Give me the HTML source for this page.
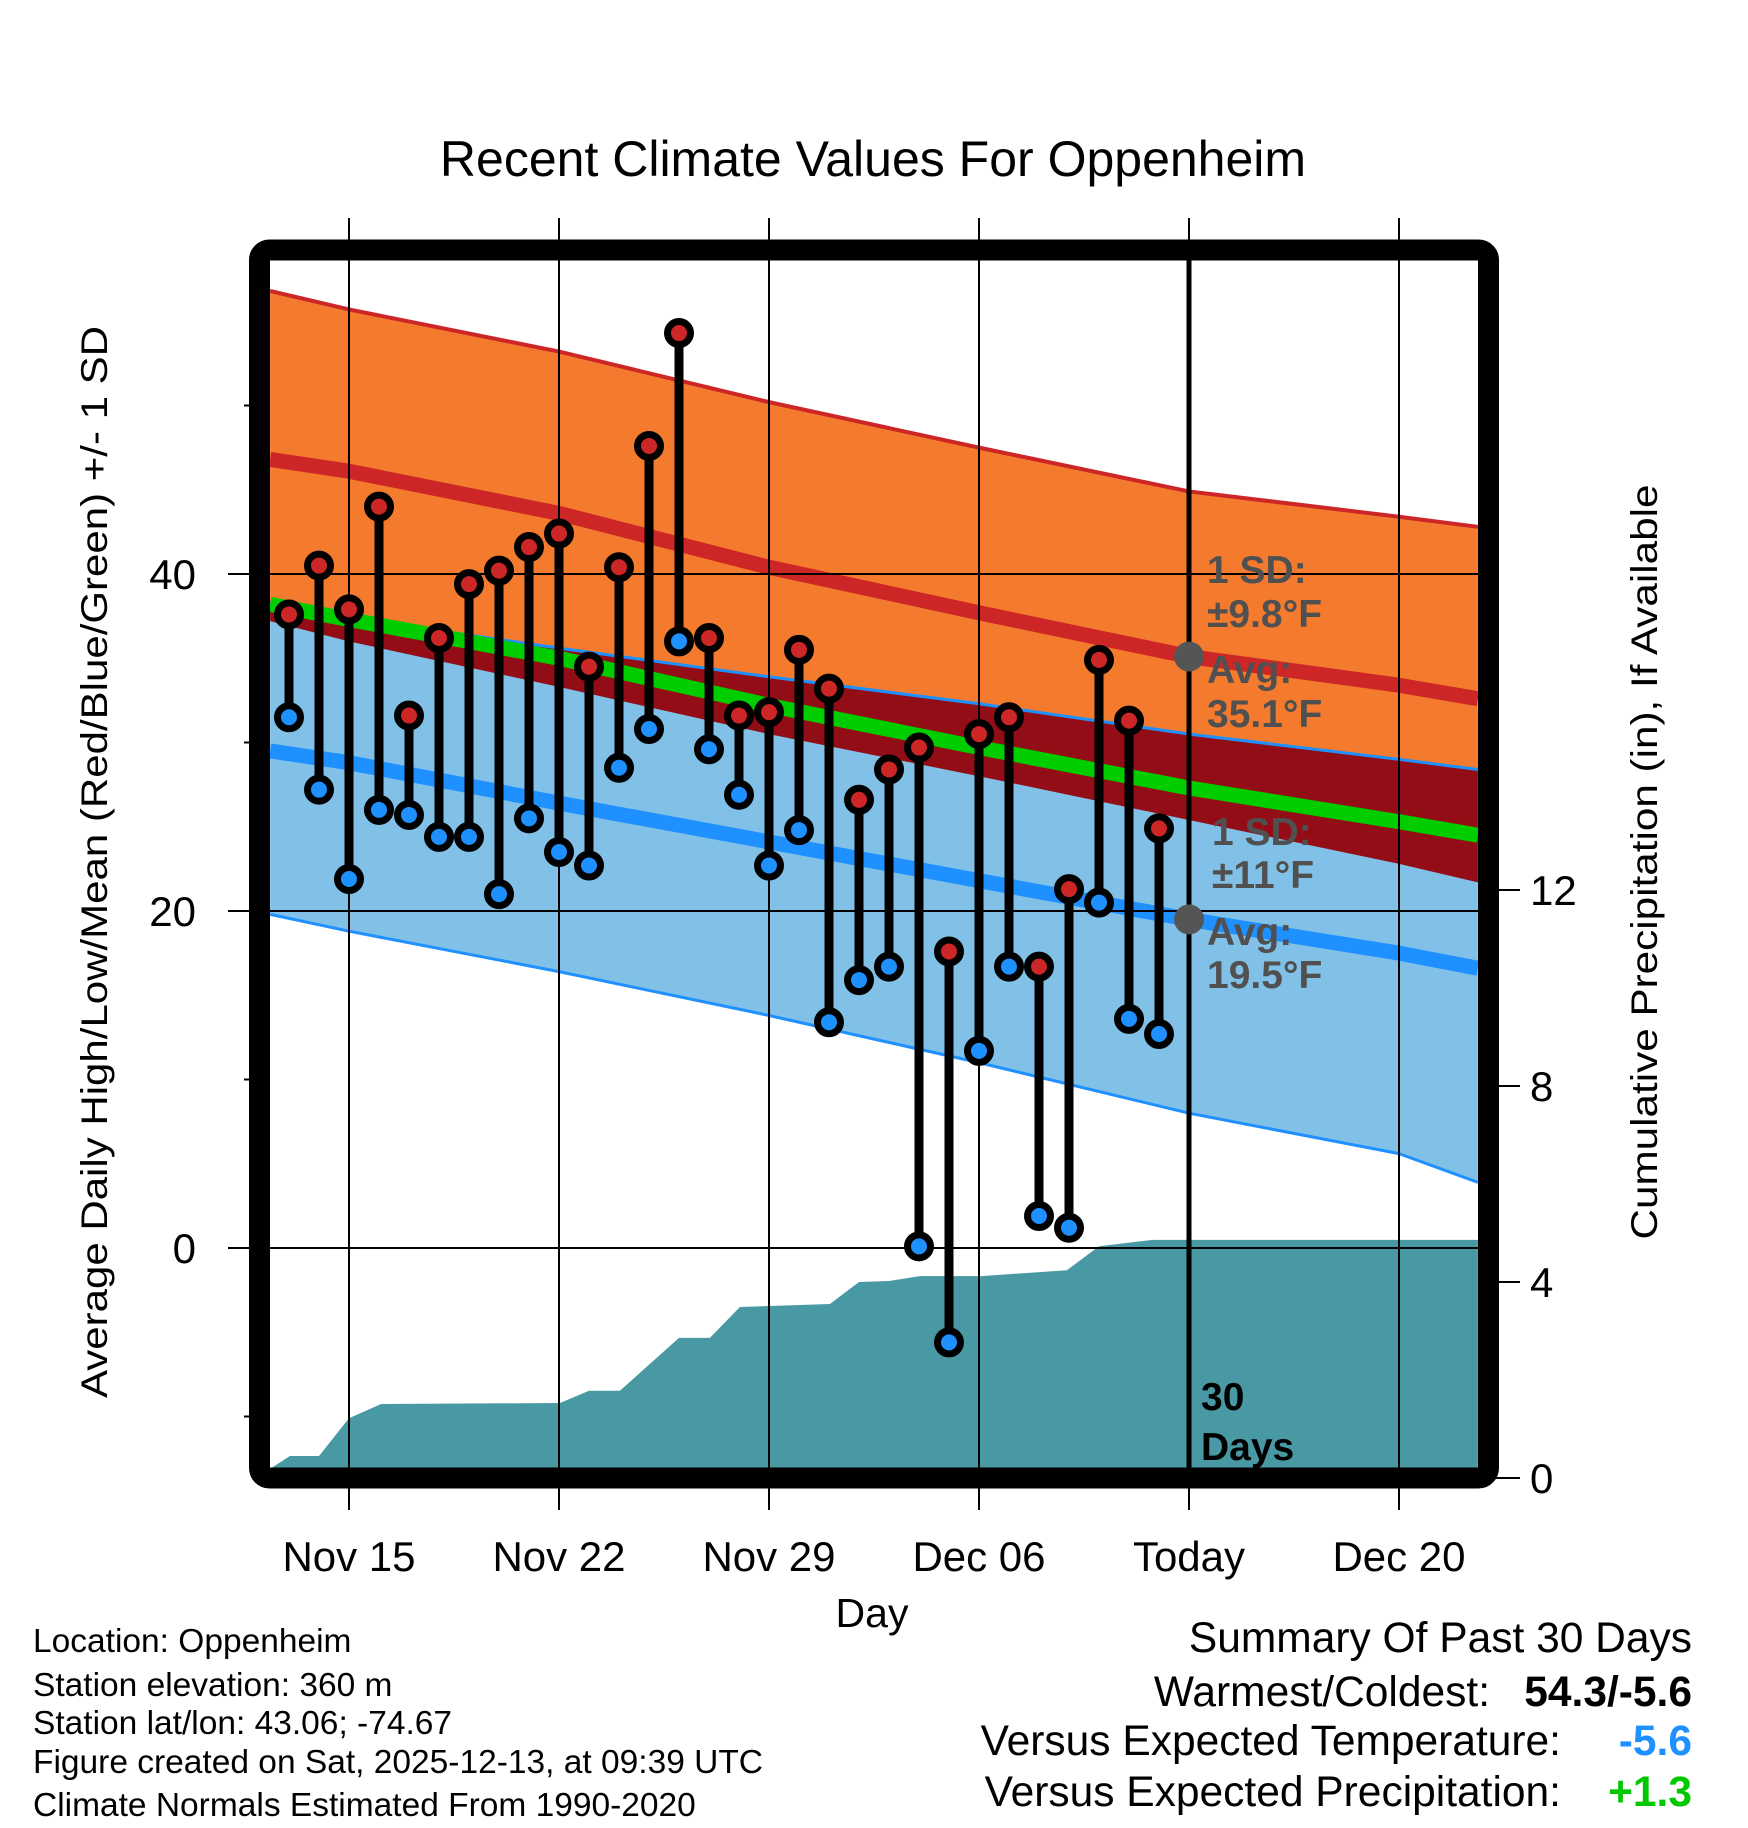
<!DOCTYPE html>
<html><head><meta charset="utf-8">
<style>
html,body{margin:0;padding:0;background:#fff;}
svg{display:block;font-family:"Liberation Sans",Arial,sans-serif;}
</style></head>
<body>
<svg id="chart" width="1748" height="1828" viewBox="0 0 1748 1828" xmlns="http://www.w3.org/2000/svg">
<rect x="0" y="0" width="1748" height="1828" fill="#fff"/>
<defs><clipPath id="plotclip"><rect x="270" y="260" width="1208" height="1208"/></clipPath></defs>
<text x="873" y="176" font-size="50" text-anchor="middle">Recent Climate Values For Oppenheim</text>
<g id="fills" clip-path="url(#plotclip)"></g>
<g id="grid"></g>
<g id="marks"></g>
<g id="annot"></g>
<rect x="259.5" y="250" width="1229" height="1228" rx="10" fill="none" stroke="#000" stroke-width="21"/>
<g id="axes"></g>
<text transform="translate(107,862) rotate(-90)" font-size="37" text-anchor="middle" textLength="1072" lengthAdjust="spacingAndGlyphs">Average Daily High/Low/Mean (Red/Blue/Green) +/- 1 SD</text>
<text transform="translate(1657,862) rotate(-90)" font-size="37" text-anchor="middle" textLength="755" lengthAdjust="spacingAndGlyphs">Cumulative Precipitation (in), If Available</text>
<text x="872" y="1627" font-size="41" text-anchor="middle">Day</text>
<g font-size="33.5">
<text x="33" y="1652">Location: Oppenheim</text>
<text x="33" y="1696">Station elevation: 360 m</text>
<text x="33" y="1734">Station lat/lon: 43.06; -74.67</text>
<text x="33" y="1773">Figure created on Sat, 2025-12-13, at 09:39 UTC</text>
<text x="33" y="1816">Climate Normals Estimated From 1990-2020</text>
</g>
<g font-size="42.5" text-anchor="end">
<text x="1692" y="1652">Summary Of Past 30 Days</text>
<text x="1490" y="1706">Warmest/Coldest:</text>
<text x="1692" y="1706" font-weight="bold">54.3/-5.6</text>
<text x="1561" y="1755">Versus Expected Temperature:</text>
<text x="1692" y="1755" font-weight="bold" fill="#1E90FF">-5.6</text>
<text x="1561" y="1806">Versus Expected Precipitation:</text>
<text x="1692" y="1806" font-weight="bold" fill="#00C800">+1.3</text>
</g>
<script>
// ---- data ----
const highDays = [13,14,15,16,17,18,19,20,21,22,23,24,25,26,27,28,29,30,31,32,33,34,35,36,37,38,39,40,41,42];
const highTemps = [37.6,40.5,37.9,44.0,31.6,36.2,39.4,40.2,41.6,42.4,34.5,40.4,47.6,54.3,36.2,31.6,31.8,35.5,33.2,26.6,28.4,29.7,17.6,30.5,31.5,16.7,21.3,34.9,31.3,24.9];
const lowTemps = [31.5,27.2,21.9,26.0,25.7,24.4,24.4,21.0,25.5,23.5,22.7,28.5,30.8,36.0,29.6,26.9,22.7,24.8,13.4,15.9,16.7,0.1,-5.6,11.7,16.7,1.9,1.2,20.5,13.6,12.7];
const normDays = [12.37,15,22,29,36,43,50,52.63];
const highUpper = [56.8,55.7,53.2,50.2,47.5,44.9,43.4,42.8];
const highAvg = [46.8,46.1,43.6,40.4,37.7,35.1,33.4,32.6];
const highLower = [37.2,36.0,33.3,30.5,28.0,25.4,22.8,21.7];
const lowUpper = [38.3,37.4,35.6,33.9,32.3,30.5,29.0,28.4];
const meanAvg = [38.2,37.3,35.0,32.2,29.7,27.3,25.3,24.5];
const lowAvg = [29.5,28.8,26.4,24.1,21.8,19.5,17.5,16.6];
const lowLower = [19.8,18.8,16.4,13.8,11.0,8.0,5.6,3.9];
const precipDays = [12.4,13.03,14,15,16.07,22.03,23,24.03,26,27.03,28.03,31.03,32,33,34.03,36.07,38.93,40,41.8,52.63];
const precipVals = [0.2,0.45,0.45,1.22,1.51,1.53,1.78,1.78,2.86,2.86,3.49,3.55,4.0,4.02,4.12,4.12,4.24,4.73,4.86,4.86];
const xTickDays = [15,22,29,36,43,50];
const xTickLabels = ["Nov 15","Nov 22","Nov 29","Dec 06","Today","Dec 20"];
const yTicks = [0,20,40];
const yMinor = [-10,10,30,50];
const y2Ticks = [0,4,8,12];
const todayDay = 43;
// ---- axes ----
const X = d => 349 + (d - 15) * 30;
const Y = t => 1248 - t * 16.85;
const Y2 = p => 1478 - p * 49;
const NS = "http://www.w3.org/2000/svg";
function mk(tag, attrs, parent){const e=document.createElementNS(NS,tag);for(const k in attrs)e.setAttribute(k,attrs[k]);parent.appendChild(e);return e;}
const fills=document.getElementById('fills'),grid=document.getElementById('grid'),marks=document.getElementById('marks'),axes=document.getElementById('axes'),annot=document.getElementById('annot');
function pts(arr){return normDays.map((d,i)=>X(d)+','+Y(arr[i])).join(' ');}
function band(up,lo,color,name){
  const p=normDays.map((d,i)=>X(d)+','+Y(up[i])).concat(normDays.slice().reverse().map((d,j)=>{const i=normDays.length-1-j;return X(d)+','+Y(lo[i]);})).join(' ');
  const e=mk('polygon',{points:p,fill:color},fills);
  
  
}
function line(arr,color,w,name){
  const e=mk('polyline',{points:pts(arr),fill:'none',stroke:color,'stroke-width':w,'stroke-linejoin':'round'},fills);
  
  
}
band(highUpper,highLower,'#F47A2E','high-sd-band');
band(lowUpper,lowLower,'#82C1E7','low-sd-band');
band(lowUpper,highLower,'#920D15','overlap-band');
line(highUpper,'#CD2626',4,'high-upper-line');
line(lowUpper,'#1E90FF',3,'low-upper-line');
line(lowLower,'#1E90FF',3,'low-lower-line');
line(highAvg,'#CD2626',15,'high-avg-line');
line(lowAvg,'#1E90FF',15,'low-avg-line');
line(meanAvg,'#00CD00',15,'mean-avg-line');
// precipitation
{
  let p=precipDays.map((d,i)=>X(d)+','+Y2(precipVals[i]));
  p.push(X(52.63)+','+1478); p.push(X(12.37)+','+1478);
  const e=mk('polygon',{points:p.join(' '),fill:'#4899A3'},fills);
  
  
}
// grid
xTickDays.forEach((d,i)=>{
  const g=mk('line',{x1:X(d),x2:X(d),y1:218,y2:1510,stroke:'#000','stroke-width':2},grid);
  
  
  const t=mk('text',{x:X(d),y:1571,'font-size':42,'text-anchor':'middle'},axes);
  t.textContent=xTickLabels[i];
  
  
});
yTicks.forEach(v=>{
  const g=mk('line',{x1:228,x2:1478,y1:Y(v),y2:Y(v),stroke:'#000','stroke-width':2},grid);
  
  
  const t=mk('text',{x:196,y:Y(v)+15,'font-size':42,'text-anchor':'end'},axes);
  t.textContent=v;
  
  
});
yMinor.forEach(v=>{
  const g=mk('line',{x1:244,x2:255,y1:Y(v),y2:Y(v),stroke:'#000','stroke-width':2},axes);
  
  
});
y2Ticks.forEach(v=>{
  const g=mk('line',{x1:1490,x2:1520,y1:Y2(v),y2:Y2(v),stroke:'#000','stroke-width':2},axes);
  
  
  const t=mk('text',{x:1530,y:Y2(v)+15,'font-size':42},axes);
  t.textContent=v;
  
  
});
{
  const g=mk('line',{x1:X(todayDay),x2:X(todayDay),y1:260,y2:1468,stroke:'#000','stroke-width':5},grid);
  
  
}
// stems and markers
highDays.forEach((d,i)=>{
  const s=mk('line',{x1:X(d),x2:X(d),y1:Y(highTemps[i]),y2:Y(lowTemps[i]),stroke:'#000','stroke-width':9},marks);
  
  
});
highDays.forEach((d,i)=>{
  const h=mk('circle',{cx:X(d),cy:Y(highTemps[i]),r:11.5,fill:'#CD2626',stroke:'#000','stroke-width':7},marks);
  
  
  const l=mk('circle',{cx:X(d),cy:Y(lowTemps[i]),r:11.5,fill:'#1E90FF',stroke:'#000','stroke-width':7},marks);
  
  
});
// annotations
const todayHigh=highAvg[5], todayLow=lowAvg[5];
[[todayHigh,'high-avg-dot'],[todayLow,'low-avg-dot']].forEach(a=>{
  const c=mk('circle',{cx:X(todayDay),cy:Y(a[0]),r:15,fill:'#555'},annot);
  
  
});
const labels=[[1207,583,'1 SD:'],[1207,627,'±9.8°F'],[1207,683,'Avg:'],[1207,727,todayHigh.toFixed(1)+'°F'],[1212,845,'1 SD:'],[1212,888,'±11°F'],[1207,945,'Avg:'],[1207,988,todayLow.toFixed(1)+'°F']];
labels.forEach(l=>{
  const t=mk('text',{x:l[0],y:l[1],'font-size':39,'font-weight':'bold',fill:'#505050'},annot);
  t.textContent=l[2];
  
  
});
[[1410,'30'],[1460,'Days']].forEach(l=>{
  const t=mk('text',{x:1201,y:l[0],'font-size':39,'font-weight':'bold'},annot);
  t.textContent=l[1];
  
  
});
</script>
</svg>
</body></html>
